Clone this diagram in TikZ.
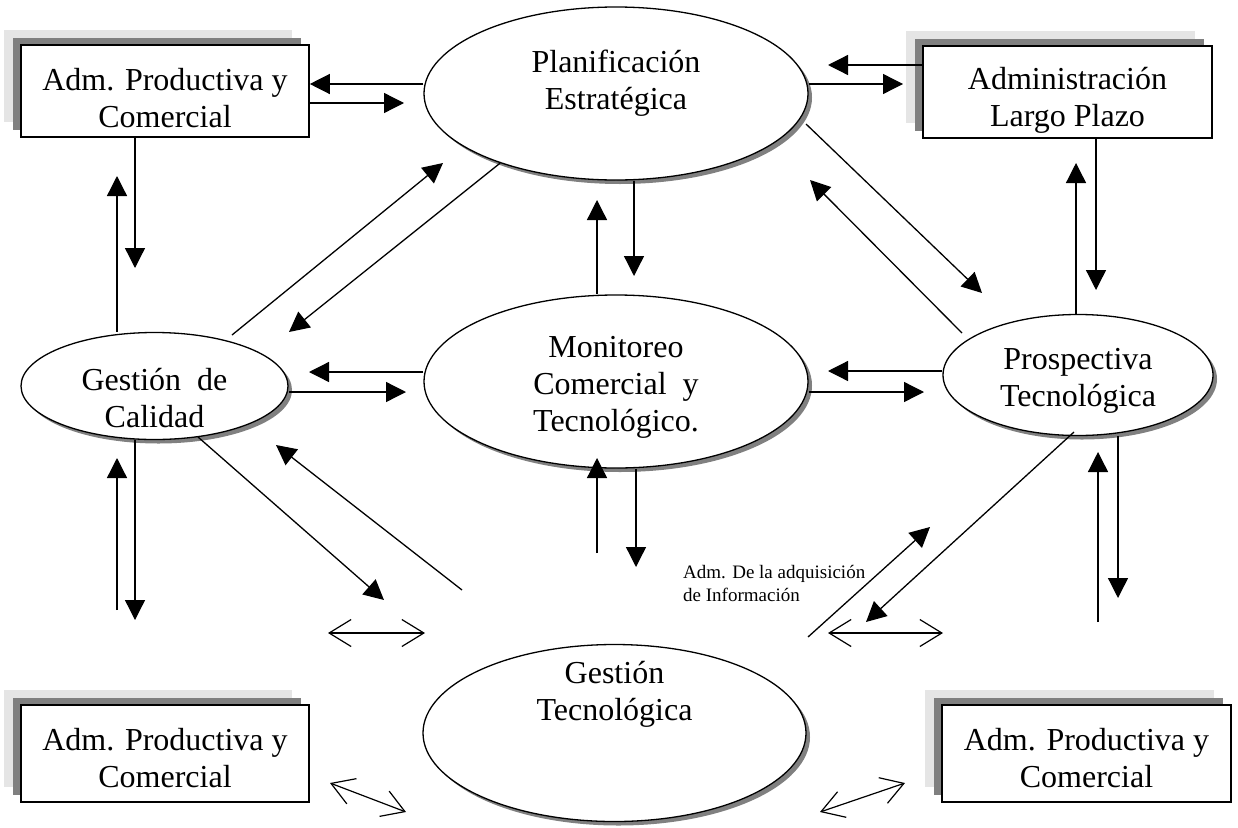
\documentclass[tikz,border=0pt]{standalone}
\usepackage{fontspec}
\setmainfont{Liberation Serif}
\usetikzlibrary{shapes.geometric,arrows.meta,shadows}
\begin{document}
\begin{tikzpicture}[x=1pt,y=-1pt,
  box/.style={draw, line width=1.6pt, fill=white, inner sep=0pt,
    general shadow={fill=black!10, draw=none, shadow xshift=-17pt, shadow yshift=15pt},
    general shadow={fill=black!50, draw=none, shadow xshift=-8.5pt, shadow yshift=7.5pt}},
  oval/.style={ellipse, draw, line width=1.3pt, fill=white, inner sep=0pt,
    general shadow={fill=black!50, draw=none, shadow xshift=4pt, shadow yshift=-4pt}},
  txt/.style={align=center, inner sep=0pt, font=\fontsize{32}{37}\selectfont},
  note/.style={align=left, inner sep=0pt, font=\fontsize{19}{23}\selectfont},
  arr/.style={line width=1.3pt, -{Triangle[length=20pt,width=20pt]}},
  dbl/.style={line width=1.2pt,
    {Straight Barb[length=22pt,width=27pt]}-{Straight Barb[length=22pt,width=27pt]}},
]
\fill[white] (0,0) rectangle (1238,827);
\useasboundingbox (0,0) rectangle (1238,827);

% rectangular units
\node[box, minimum width=288pt, minimum height=92pt] (tl) at (165,91) {};
\node[txt] (tlt) at (165,98) {Adm. Productiva y\\Comercial};
\node[box, minimum width=289pt, minimum height=92pt] (tr) at (1067.5,92) {};
\node[txt] (trt) at (1067.5,100) {Administración\\Largo Plazo};
\node[box, minimum width=288pt, minimum height=97pt] (bl) at (165,753.5) {};
\node[txt] (blt) at (165,758.5) {Adm. Productiva y\\Comercial};
\node[box, minimum width=289pt, minimum height=97pt] (br) at (1086.5,753.5) {};
\node[txt] (brt) at (1086.5,758.5) {Adm. Productiva y\\Comercial};

% processes
\node[oval, minimum width=384pt, minimum height=173pt] (pe) at (616,93.5) {};
\node[txt] (pet) at (616,83) {Planificación\\Estratégica};
\node[oval, minimum width=384pt, minimum height=173pt] (mc) at (616,381.5) {};
\node[txt] (mct) at (616,387) {Monitoreo\\Comercial\ \ y\\Tecnológico.};
\node[oval, minimum width=267pt, minimum height=107pt] (gc) at (154.5,386) {};
\node[txt] (gct) at (154.5,398) {Gestión\ \ de\\Calidad};
\node[oval, minimum width=270pt, minimum height=121pt] (pt) at (1078,375) {};
\node[txt] (ptt) at (1078,381) {Prospectiva\\Tecnológica};
\node[oval, minimum width=383pt, minimum height=177pt] (gt) at (614.5,733) {};
\node[txt] (gtt) at (614.5,694) {Gestión\\Tecnológica};

\node[note, anchor=north west] (lbl) at (683,565)
  {Adm. De la adquisición\\de Información};

% free ends of the connectors
\coordinate (t2) at (404,103);
\coordinate (t3) at (828,65);
\coordinate (t4) at (903,84);
\coordinate (t5) at (135,268);
\coordinate (t6) at (117,176);
\coordinate (s7) at (232,335);  \coordinate (t7) at (443,163);
\coordinate (t8) at (289,332);
\coordinate (t9) at (597,200);
\coordinate (t10) at (634,276);
\coordinate (s11) at (806,124); \coordinate (t11) at (982,293);
\coordinate (s12) at (962,333); \coordinate (t12) at (810,180);
\coordinate (t13) at (1076,163);
\coordinate (t14) at (1096,290);
\coordinate (t15) at (309,372);
\coordinate (t16) at (406,392);
\coordinate (t17) at (828,371);
\coordinate (t18) at (924,392);
\coordinate (s19) at (597,553); \coordinate (t19) at (597,458);
\coordinate (t20) at (636,567);
\coordinate (s21) at (117,610); \coordinate (t21) at (117,458);
\coordinate (t22) at (135,620);
\coordinate (s23) at (198,437); \coordinate (t23) at (384,600);
\coordinate (s24) at (462,590); \coordinate (t24) at (276,445);
\coordinate (s25) at (808,637); \coordinate (t25) at (930,527);
\coordinate (s26) at (1074,432); \coordinate (t26) at (866,622);
\coordinate (t27) at (1118,598);
\coordinate (s28) at (1098,622); \coordinate (t28) at (1098,452);
\coordinate (d1a) at (328,633); \coordinate (d1b) at (425,633);
\coordinate (d2a) at (828,633); \coordinate (d2b) at (943,633);
\coordinate (d3a) at (330,783); \coordinate (d3b) at (406,812);
\coordinate (d4a) at (820,812); \coordinate (d4b) at (905,783);

% top row
\draw[arr] ([yshift=9.5pt]pe.west) -- ([yshift=7pt]tl.east);
\draw[arr] ([yshift=-12pt]tl.east) -- (t2);
\draw[arr] ([yshift=27pt]tr.west) -- (t3);
\draw[arr] ([yshift=9.5pt]pe.east) -- (t4);

% left column
\draw[arr] (tl.south -| t5) -- (t5);
\draw[arr] (gc.north -| t6) -- (t6);
\draw[arr] (s21) -- (t21);
\draw[arr] (gc.south -| t22) -- (t22);

% centre column
\draw[arr] (mc.north -| t9) -- (t9);
\draw[arr] (pe.south -| t10) -- (t10);
\draw[arr] (s19) -- (t19);
\draw[arr] (mc.south -| t20) -- (t20);

% right column
\draw[arr] (pt.north -| t13) -- (t13);
\draw[arr] (tr.south -| t14) -- (t14);
\draw[arr] (pt.south -| t27) -- (t27);
\draw[arr] (s28) -- (t28);

% middle row
\draw[arr] ([yshift=9.5pt]mc.west) -- (t15);
\draw[arr] ([yshift=-6pt]gc.east) -- (t16);
\draw[arr] ([yshift=4pt]pt.west) -- (t17);
\draw[arr] ([yshift=-10.5pt]mc.east) -- (t18);

% diagonals
\draw[arr] (s7) -- (t7);
\draw[arr] (pe.211) -- (t8);
\draw[arr] (s11) -- (t11);
\draw[arr] (s12) -- (t12);
\draw[arr] (s23) -- (t23);
\draw[arr] (s24) -- (t24);
\draw[arr] (s25) -- (t25);
\draw[arr] (s26) -- (t26);

% two-way links near the bottom
\draw[dbl] (d1a) -- (d1b);
\draw[dbl] (d2a) -- (d2b);
\draw[dbl] (d3a) -- (d3b);
\draw[dbl] (d4a) -- (d4b);
\end{tikzpicture}
\end{document}
